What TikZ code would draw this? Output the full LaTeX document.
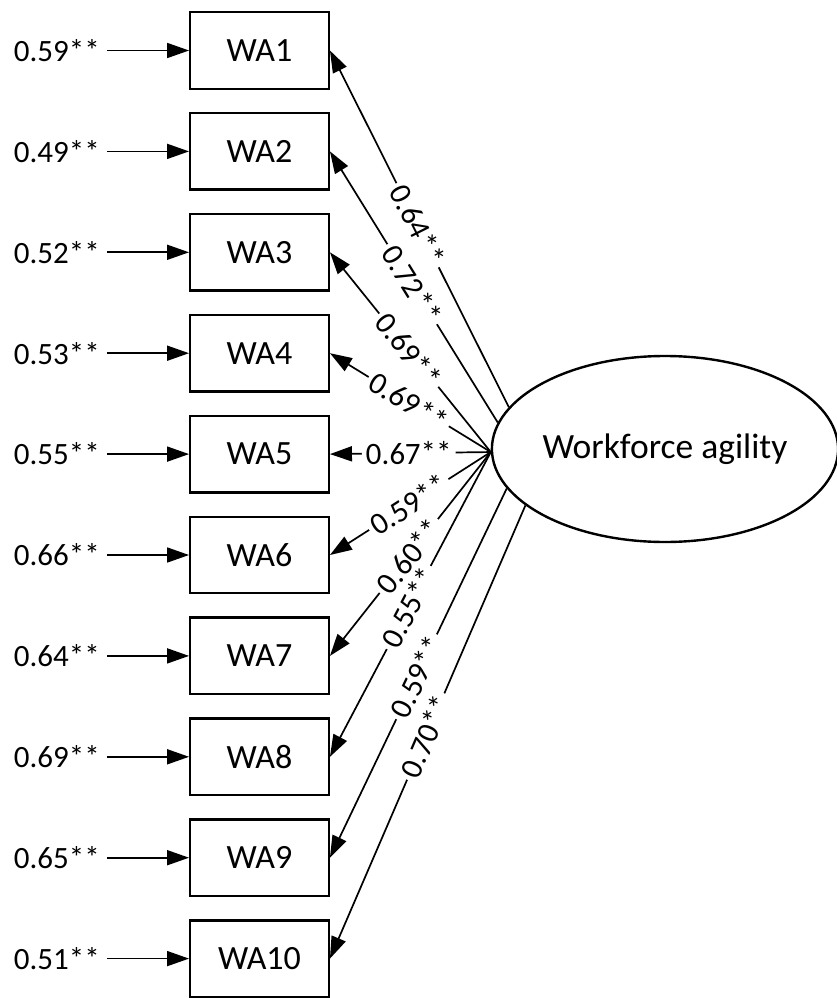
\documentclass[tikz,border=0pt]{standalone}
\usepackage{fontspec}
\setmainfont{Carlito}
\usetikzlibrary{arrows.meta,shapes.geometric}
\begin{document}
\begin{tikzpicture}[x=1pt,y=-1pt,
  indicator/.style={draw,line width=2.4pt,minimum width=138.5pt,minimum height=76.5pt,
    inner sep=0pt,font=\fontsize{34}{40}\selectfont},
  latent/.style={draw,ellipse,line width=2.4pt,minimum width=337pt,minimum height=186pt,
    inner sep=0pt,font=\fontsize{35.5}{42}\selectfont},
  errlabel/.style={anchor=east,inner xsep=7pt,inner ysep=0pt,font=\fontsize{31}{36}\selectfont},
  loading/.style={sloped,fill=white,inner xsep=4pt,inner ysep=0pt,font=\fontsize{31}{36}\selectfont},
  link/.style={line width=1.7pt,-{Triangle[length=22pt,width=15pt]}}
]
\useasboundingbox (0,0) rectangle (836,998);

% latent factor
\node[latent] (fa) at (665,449) {Workforce agility};

% indicators with their error terms
\foreach \i/\err in {1/0.59,2/0.49,3/0.52,4/0.53,5/0.55,6/0.66,7/0.64,8/0.69,9/0.65,10/0.51}{
  \pgfmathsetmacro{\yy}{50.5+100.9*(\i-1)}
  \node[indicator] (wa\i) at (259.5,\yy) {WA\i};
  \node[errlabel] (e\i) at (107,\yy) {\err**};
  \draw[link] (e\i.east) -- (wa\i.west);
}

% factor loadings
\foreach \i/\ld/\ang in {1/0.64/165,2/0.72/171,3/0.69/181,4/0.69/181,5/0.67/181,
                         6/0.59/181,7/0.60/181,8/0.55/181,9/0.59/194,10/0.70/202}{
  \draw[link] (fa.\ang) -- node[loading,pos=0.51] {\ld**} (wa\i.east);
}
\end{tikzpicture}
\end{document}
